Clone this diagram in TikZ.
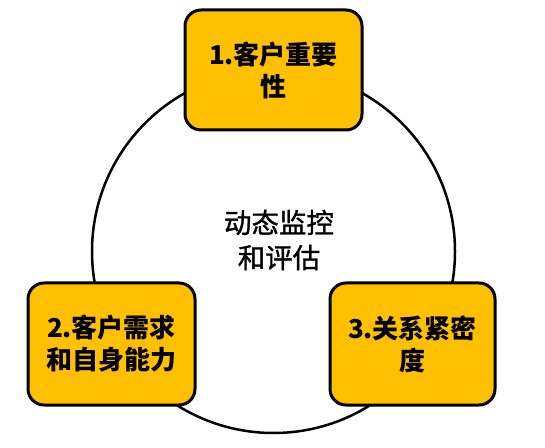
\documentclass[tikz,border=0pt]{standalone}
\usepackage{fontspec}
\setmainfont{Noto Sans CJK SC}
\newfontfamily\cjkmid{Noto Sans CJK SC}[FakeBold=1.2]
\definecolor{boxfill}{RGB}{255,192,0}
\tikzset{
  item/.style={draw=black, line width=3pt, fill=boxfill, rounded corners=16pt,
    align=center, inner sep=0pt, font=\fontsize{26}{32}\selectfont\bfseries},
  ring/.style={draw=black, line width=2.5pt, circle, inner sep=0pt},
}
\begin{document}
\begin{tikzpicture}[x=1pt,y=1pt]
\useasboundingbox (0,0) rectangle (545,447);
\node[ring, minimum size=363pt] (ring) at (273.5,195.5) {};
\node[align=center, font=\cjkmid\fontsize{27.5}{35}\selectfont] (center) at (279,207) {动态监控\\和评估};
\node[item, minimum width=177pt, minimum height=120pt] (top) at (273.5,377) {1.客户重要\\性};
\node[item, minimum width=167pt, minimum height=122pt] (left) at (111.5,103) {2.客户需求\\和自身能力};
\node[item, minimum width=165pt, minimum height=122pt] (right) at (412.5,103) {3.关系紧密\\度};
\end{tikzpicture}
\end{document}
